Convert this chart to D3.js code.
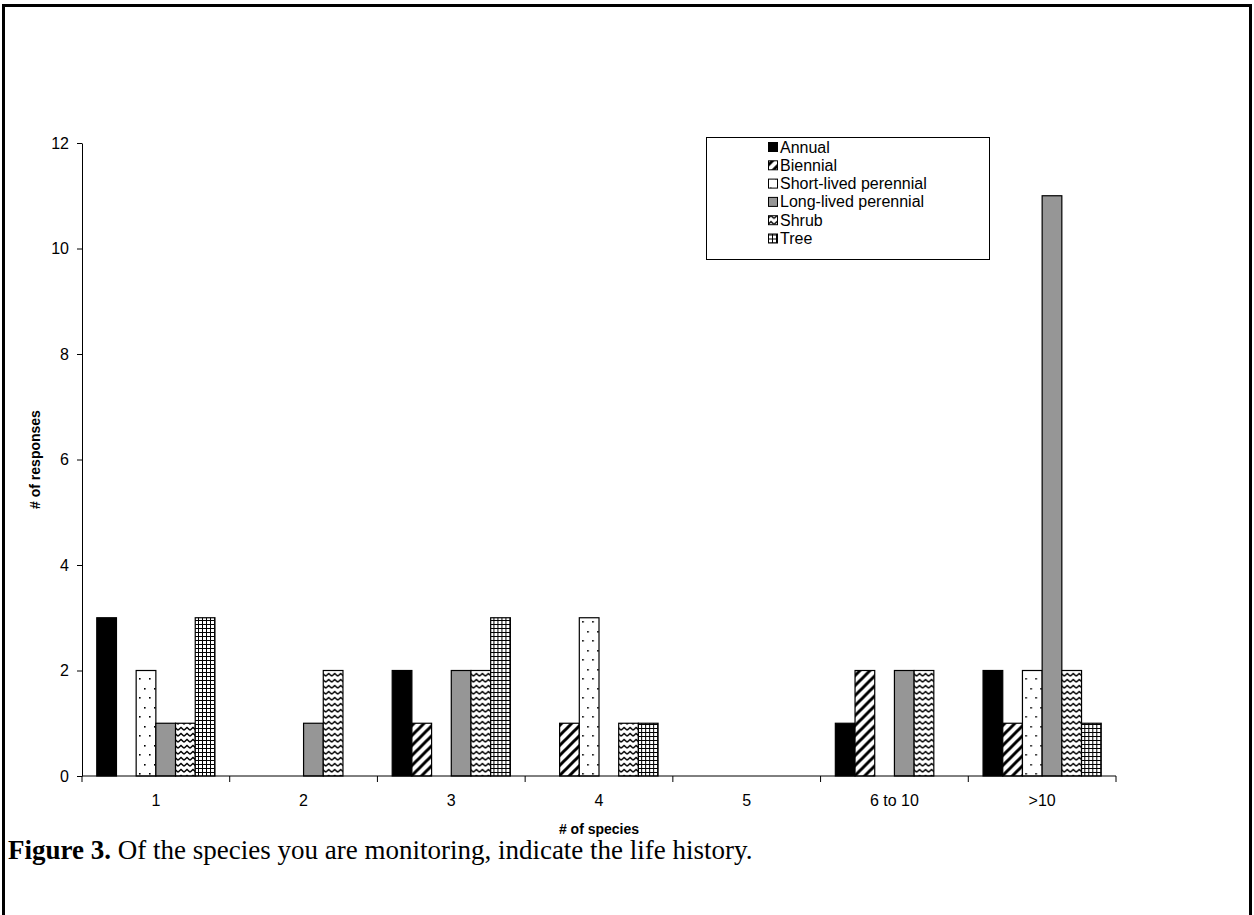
<!DOCTYPE html>
<html>
<head>
<meta charset="utf-8">
<script src="https://cdn.jsdelivr.net/npm/d3@7"></script>
<style>
  body { margin: 0; background: #fff; }
  svg { display: block; }
</style>
</head>
<body>
<svg id="chart" width="1254" height="915"></svg>
<script>
// data
var categories = ["1", "2", "3", "4", "5", "6 to 10", ">10"];
var seriesNames = ["Annual", "Biennial", "Short-lived perennial", "Long-lived perennial", "Shrub", "Tree"];
var annual    = [3, 0, 2, 0, 0, 1, 2];
var biennial  = [0, 0, 1, 1, 0, 2, 1];
var shortLived = [2, 0, 0, 3, 0, 0, 2];
var longLived = [1, 1, 2, 0, 0, 2, 11];
var shrub     = [1, 2, 2, 1, 0, 2, 2];
var tree      = [3, 0, 3, 1, 0, 0, 1];
var yTicks = [0, 2, 4, 6, 8, 10, 12];

var allSeries = [annual, biennial, shortLived, longLived, shrub, tree];
var fills = ["#000", "url(#pBiennial)", "url(#pDots)", "#969696", "url(#pWave)", "url(#pGrid)"];

var svg = d3.select("#chart");
var plotLeft = 82, plotRight = 1116, plotTop = 143, plotBottom = 776;

// patterns
var defs = svg.append("defs");
var p = defs.append("pattern").attr("id", "pBiennial").attr("patternUnits", "userSpaceOnUse")
  .attr("width", 10).attr("height", 10);
p.append("rect").attr("width", 10).attr("height", 10).attr("fill", "#fff");
p.append("path").attr("d", "M-3,13 L13,-3 M-8,8 L8,-8 M2,18 L18,2")
  .attr("stroke", "#000").attr("stroke-width", 3);

p = defs.append("pattern").attr("id", "pDots").attr("patternUnits", "userSpaceOnUse")
  .attr("width", 10).attr("height", 19);
p.append("rect").attr("width", 10).attr("height", 19).attr("fill", "#fff");
p.append("rect").attr("x", 2).attr("y", 4).attr("width", 1.6).attr("height", 1.6).attr("fill", "#000");
p.append("rect").attr("x", 7).attr("y", 13).attr("width", 1.6).attr("height", 1.6).attr("fill", "#000");

p = defs.append("pattern").attr("id", "pWave").attr("patternUnits", "userSpaceOnUse")
  .attr("width", 6).attr("height", 6);
p.append("rect").attr("width", 6).attr("height", 6).attr("fill", "#fff");
p.append("path").attr("d", "M0,4.2 L3,1.4 L6,4.2").attr("fill", "none")
  .attr("stroke", "#000").attr("stroke-width", 1.4);

p = defs.append("pattern").attr("id", "pGrid").attr("patternUnits", "userSpaceOnUse")
  .attr("width", 4).attr("height", 4);
p.append("rect").attr("width", 4).attr("height", 4).attr("fill", "#fff");
p.append("path").attr("d", "M0.5,0 V4 M0,0.5 H4").attr("stroke", "#000").attr("stroke-width", 1);

// page frame
svg.append("path").attr("d", "M3.5,920 V5.5 H1250.5 V920")
  .attr("fill", "none").attr("stroke", "#000").attr("stroke-width", 3);

var x0 = d3.scaleBand().domain(categories).range([plotLeft, plotRight]);
var x1 = d3.scaleBand().domain(d3.range(6)).range([0, x0.bandwidth()])
  .paddingInner(0).paddingOuter(0.75);
var y = d3.scaleLinear().domain([0, 12]).range([plotBottom, plotTop]);

// bars
var groups = svg.append("g").selectAll("g").data(categories).enter().append("g")
  .attr("transform", function (d) { return "translate(" + x0(d) + ",0)"; });
groups.selectAll("rect")
  .data(function (d, i) { return allSeries.map(function (s, k) { return { k: k, v: s[i] }; }); })
  .enter().filter(function (d) { return d.v > 0; })
  .append("rect")
  .attr("x", function (d) { return x1(d.k); })
  .attr("y", function (d) { return y(d.v); })
  .attr("width", x1.bandwidth())
  .attr("height", function (d) { return y(0) - y(d.v); })
  .attr("fill", function (d) { return fills[d.k]; })
  .attr("stroke", "#000").attr("stroke-width", 1.2);

// y axis
var yAxis = svg.append("g").attr("transform", "translate(" + plotLeft + ",0)")
  .call(d3.axisLeft(y).tickValues(yTicks).tickSize(5).tickSizeOuter(0));
yAxis.attr("font-size", null);
yAxis.selectAll("text").attr("font-family", "Liberation Sans, Arial, sans-serif")
  .style("font-size", "16px").attr("fill", "#000").attr("dx", "-5");

// x axis with ticks at the group boundaries
svg.append("line").attr("x1", plotLeft).attr("x2", plotRight).attr("y1", plotBottom).attr("y2", plotBottom)
  .attr("stroke", "#000");
svg.append("g").selectAll("line").data(categories.concat(["end"])).enter().append("line")
  .attr("x1", function (d, i) { return plotLeft + i * x0.bandwidth(); })
  .attr("x2", function (d, i) { return plotLeft + i * x0.bandwidth(); })
  .attr("y1", plotBottom).attr("y2", plotBottom + 6).attr("stroke", "#000");
svg.append("g").selectAll("text").data(categories).enter().append("text")
  .attr("x", function (d) { return x0(d) + x0.bandwidth() / 2; })
  .attr("y", plotBottom + 30)
  .attr("text-anchor", "middle")
  .attr("font-family", "Liberation Sans, Arial, sans-serif").style("font-size", "16px")
  .text(function (d) { return d; });

// axis titles
svg.append("text").attr("x", (plotLeft + plotRight) / 2).attr("y", 834).attr("text-anchor", "middle")
  .attr("font-family", "Liberation Sans, Arial, sans-serif").attr("font-size", 14)
  .attr("font-weight", "bold").text("# of species");
svg.append("text").attr("transform", "translate(40," + (plotTop + plotBottom) / 2 + ") rotate(-90)")
  .attr("text-anchor", "middle")
  .attr("font-family", "Liberation Sans, Arial, sans-serif").attr("font-size", 14)
  .attr("font-weight", "bold").text("# of responses");

// legend
var lg = svg.append("g").attr("transform", "translate(706,137)");
lg.append("rect").attr("x", 0.5).attr("y", 0.5).attr("width", 283).attr("height", 122)
  .attr("fill", "#fff").attr("stroke", "#000");
var items = lg.selectAll("g.item").data(seriesNames).enter().append("g")
  .attr("transform", function (d, i) { return "translate(62," + (10 + i * 18.3) + ")"; });
items.append("rect").attr("x", 0.5).attr("y", -4.5).attr("width", 9).attr("height", 9)
  .attr("fill", function (d, i) { return fills[i]; }).attr("stroke", "#000");
items.append("text").attr("x", 12).attr("y", 5.5)
  .attr("font-family", "Liberation Sans, Arial, sans-serif").attr("font-size", 16)
  .text(function (d) { return d; });

// caption
var cap = svg.append("text").attr("x", 8).attr("y", 859)
  .attr("font-family", "Liberation Serif, Times New Roman, serif").attr("font-size", 27);
cap.append("tspan").attr("font-weight", "bold").text("Figure 3.");
cap.append("tspan").text(" Of the species you are monitoring, indicate the life history.");
</script>
</body>
</html>
